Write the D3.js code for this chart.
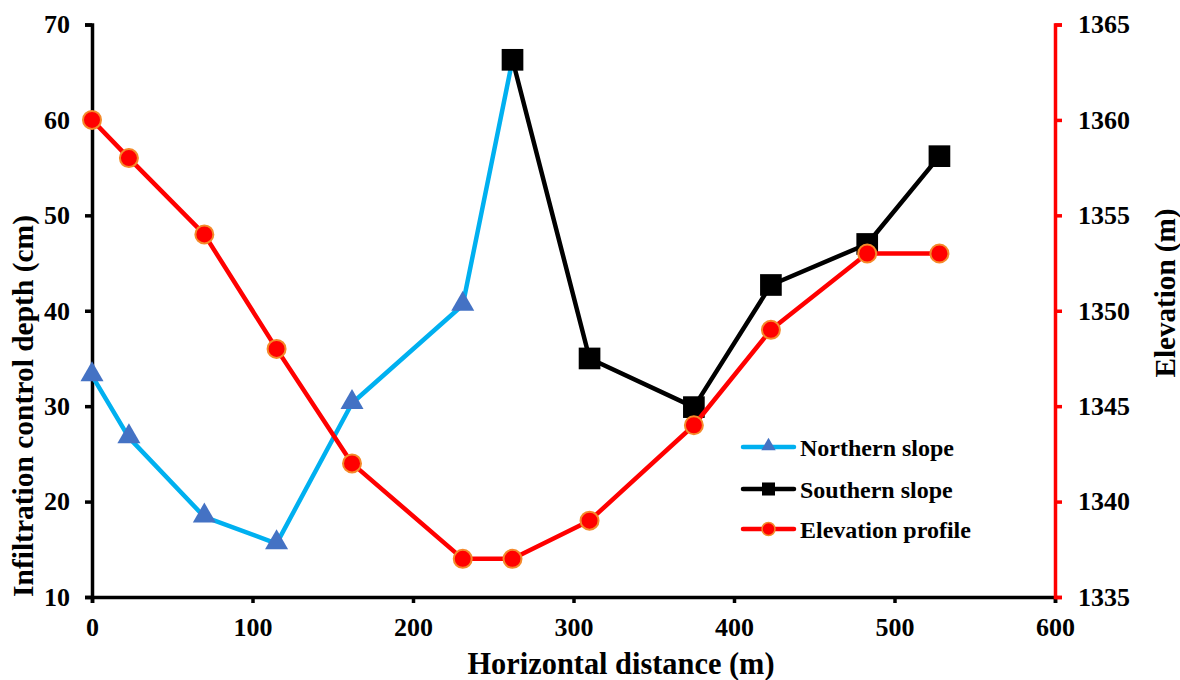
<!DOCTYPE html>
<html><head><meta charset="utf-8">
<script src="https://cdn.jsdelivr.net/npm/d3@7"></script>
<style>body{margin:0;background:#fff}svg{display:block}text{font-family:"Liberation Serif","Times New Roman",serif;font-weight:bold}</style>
</head><body><svg id="c" width="1180" height="680"></svg>
<script>
const northX = [0, 23, 70, 115, 162, 231, 262];
const northY = [33.2, 26.7, 18.4, 15.6, 30.3, 40.6, 66.3];
const southX = [262, 310, 375, 423, 483, 528];
const southY = [66.3, 35.0, 29.9, 42.7, 47.0, 56.2];
const elevX = [0, 23, 70, 115, 162, 231, 262, 310, 375, 423, 483, 528];
const elevY = [1360, 1358, 1354, 1348, 1342, 1337, 1337, 1339, 1344, 1349, 1353, 1353];
const xTicks = [0, 100, 200, 300, 400, 500, 600];
const yTicks = [10, 20, 30, 40, 50, 60, 70];
const y2Ticks = [1335, 1340, 1345, 1350, 1355, 1360, 1365];
const seriesNames = ["Northern slope", "Southern slope", "Elevation profile"];

const svg = d3.select("#c");
const L = 92, R = 1055, T = 24.5, B = 597;
const x = d3.scaleLinear().domain([0, 600]).range([L, R]);
const y = d3.scaleLinear().domain([10, 70]).range([B, T]);
const y2 = d3.scaleLinear().domain([1335, 1365]).range([B, T]);

function styleAxis(g, color) {
  g.attr("font-size", null).attr("font-family", null);
  g.select(".domain").attr("stroke", color).attr("stroke-width", 3.5);
  g.selectAll(".tick line").attr("stroke", color).attr("stroke-width", 3.5);
  g.selectAll(".tick text").attr("fill", "#000").style("font-size", "26px");
}
const fmt = d3.format("d");
const gx = svg.append("g").attr("transform", `translate(0,${B})`)
  .call(d3.axisBottom(x).tickValues(xTicks).tickFormat(fmt).tickSizeOuter(0).tickSize(6).tickPadding(15));
styleAxis(gx, "#000");
const gy = svg.append("g").attr("transform", `translate(${L},0)`)
  .call(d3.axisLeft(y).tickValues(yTicks).tickFormat(fmt).tickSizeOuter(0).tickSize(7).tickPadding(15));
styleAxis(gy, "#000");
const gy2 = svg.append("g").attr("transform", `translate(${R},0)`)
  .call(d3.axisRight(y2).tickValues(y2Ticks).tickFormat(fmt).tickSizeOuter(0).tickSize(7).tickPadding(16));
styleAxis(gy2, "#ff0000");

svg.append("text").attr("x", 621).attr("y", 674).attr("text-anchor", "middle")
  .attr("textLength", 307).attr("lengthAdjust", "spacingAndGlyphs")
  .style("font-size", "31px").text("Horizontal distance (m)");
svg.append("text").attr("transform", `translate(33,406) rotate(-90)`).attr("text-anchor", "middle")
  .attr("textLength", 382).attr("lengthAdjust", "spacingAndGlyphs")
  .style("font-size", "29px").text("Infiltration control depth (cm)");
svg.append("text").attr("transform", `translate(1175,293) rotate(-90)`).attr("text-anchor", "middle")
  .attr("textLength", 169).attr("lengthAdjust", "spacingAndGlyphs")
  .style("font-size", "29px").text("Elevation (m)");

const north = northX.map((d, i) => [d, northY[i]]);
const south = southX.map((d, i) => [d, southY[i]]);
const elev = elevX.map((d, i) => [d, elevY[i]]);

const lineL = d3.line().x(d => x(d[0])).y(d => y(d[1]));
const lineR = d3.line().x(d => x(d[0])).y(d => y2(d[1]));
const tri = d3.symbol().type(d3.symbolTriangle).size(230);
const sq = d3.symbol().type(d3.symbolSquare).size(470);

svg.append("path").datum(north).attr("d", lineL).attr("fill", "none").attr("stroke", "#00b0f0").attr("stroke-width", 4.5).attr("stroke-linejoin", "round");
svg.selectAll(".tri").data(north.slice(0, 6)).enter().append("path")
  .attr("transform", d => `translate(${x(d[0])},${y(d[1]) - 1})`).attr("d", tri).attr("fill", "#4472c4");

svg.append("path").datum(south).attr("d", lineL).attr("fill", "none").attr("stroke", "#000").attr("stroke-width", 4.5).attr("stroke-linejoin", "round");
svg.selectAll(".sq").data(south).enter().append("path")
  .attr("transform", d => `translate(${x(d[0])},${y(d[1])})`).attr("d", sq).attr("fill", "#000");

svg.append("path").datum(elev).attr("d", lineR).attr("fill", "none").attr("stroke", "#ff0000").attr("stroke-width", 4.5).attr("stroke-linejoin", "round");
svg.selectAll(".ci").data(elev).enter().append("circle")
  .attr("cx", d => x(d[0])).attr("cy", d => y2(d[1])).attr("r", 9)
  .attr("fill", "#ff0000").attr("stroke", "#f58a2a").attr("stroke-width", 2);

// legend
const lg = svg.append("g");
const rows = [447, 489, 529];
const lcol = ["#00b0f0", "#000", "#ff0000"];
rows.forEach((ry, i) => {
  lg.append("line").attr("x1", 743).attr("x2", 794).attr("y1", ry).attr("y2", ry)
    .attr("stroke", lcol[i]).attr("stroke-width", 4.5).attr("stroke-linecap", "round");
  const cx = 768.5;
  if (i === 0) lg.append("path").attr("transform", `translate(${cx},${ry - 1})`).attr("d", d3.symbol().type(d3.symbolTriangle).size(90)).attr("fill", "#4472c4");
  if (i === 1) lg.append("path").attr("transform", `translate(${cx},${ry})`).attr("d", d3.symbol().type(d3.symbolSquare).size(170)).attr("fill", "#000");
  if (i === 2) lg.append("circle").attr("cx", cx).attr("cy", ry).attr("r", 6.5).attr("fill", "#ff0000").attr("stroke", "#f58a2a").attr("stroke-width", 1.5);
  lg.append("text").attr("x", 800).attr("y", ry + 9).style("font-size", "24px").text(seriesNames[i]);
});
</script></body></html>
